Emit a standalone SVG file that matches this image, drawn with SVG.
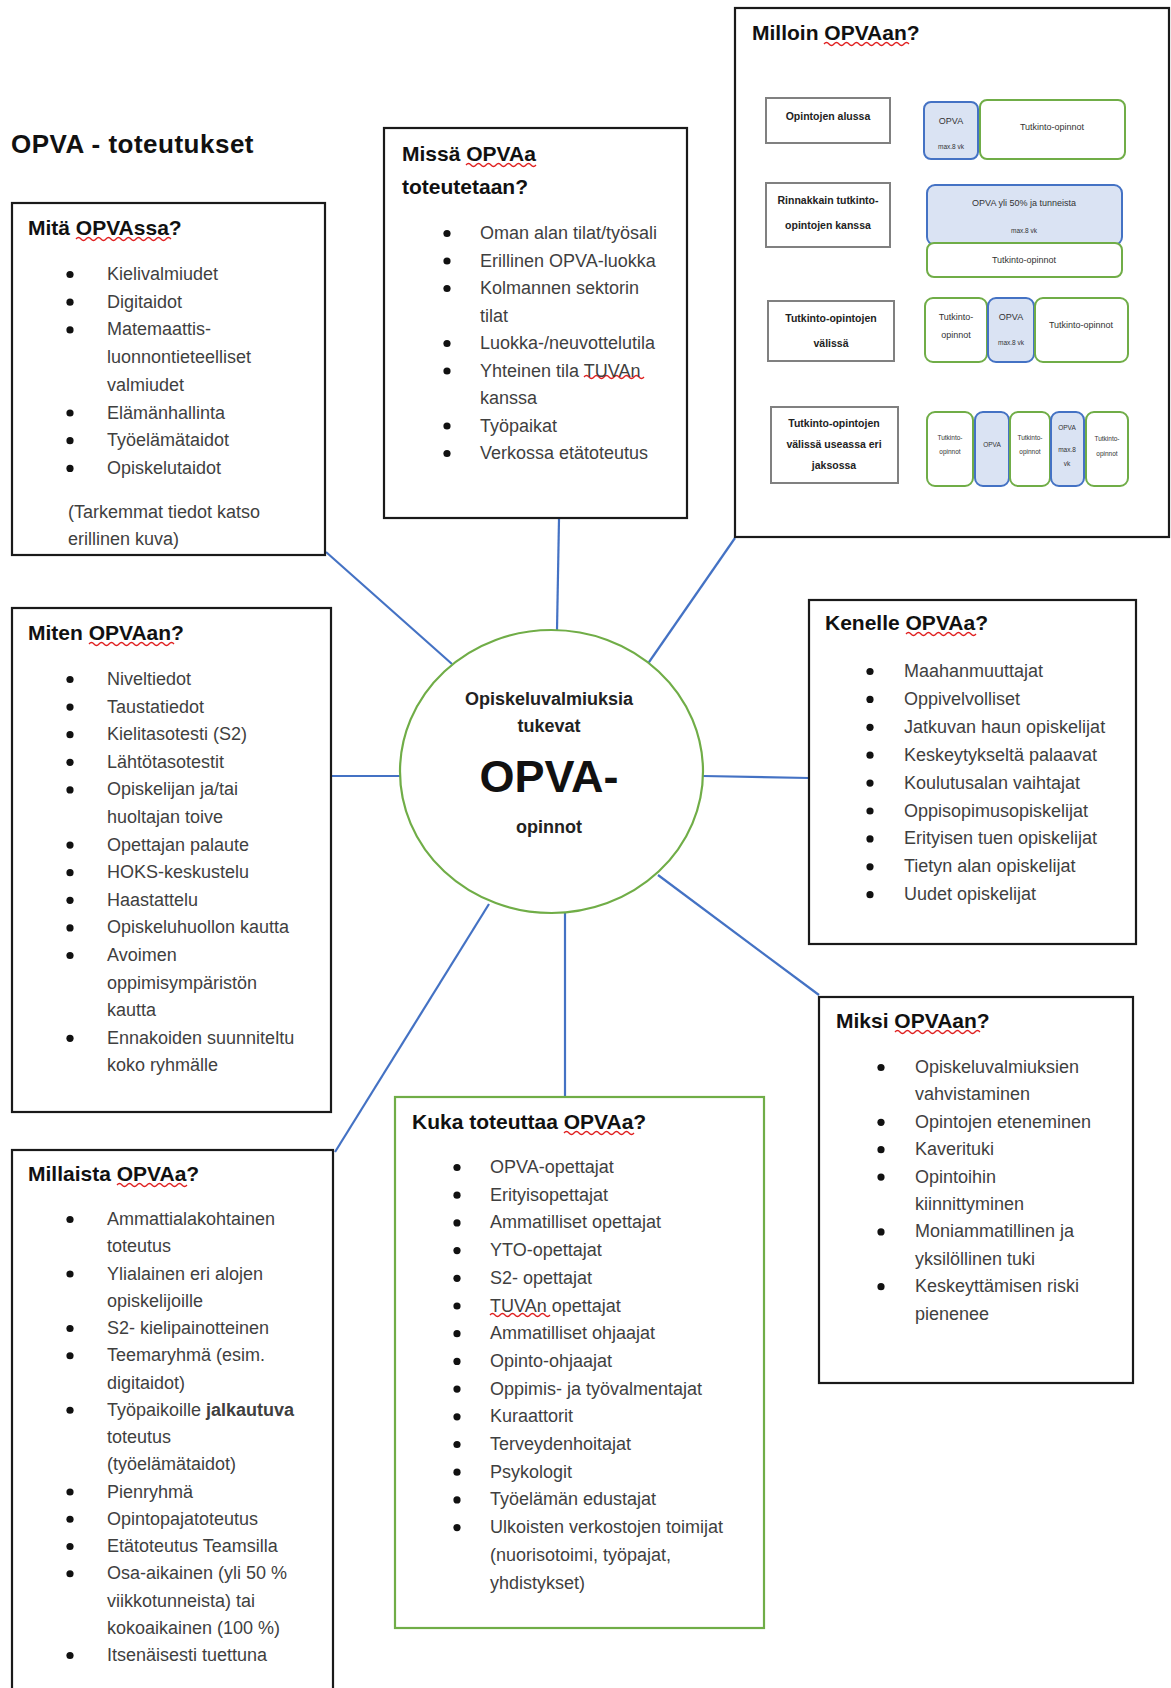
<svg xmlns="http://www.w3.org/2000/svg" width="1171" height="1688" viewBox="0 0 1171 1688">
<style>
text{font-family:"Liberation Sans",Arial,sans-serif}
.ttl{font-size:26px;font-weight:bold;fill:#111;letter-spacing:0.5px}
.h{font-size:21px;font-weight:bold;fill:#111}
.it{font-size:18px;fill:#3f3f3f}
.box{fill:#fff;stroke:#1a1a1a;stroke-width:2.2}
.gbox{fill:#fff;stroke:#70ad47;stroke-width:2.2}
.sq{fill:none;stroke:#e02020;stroke-width:1.3}
.con{stroke:#4472c4;stroke-width:2.2;fill:none}
.lbl{fill:#fff;stroke:#808080;stroke-width:2}
.lt{font-size:10.5px;font-weight:bold;fill:#222;text-anchor:middle}
.bs{fill:#dae3f3;stroke:#4472c4;stroke-width:2}
.gs{fill:#fff;stroke:#70ad47;stroke-width:2}
.st{font-size:9px;fill:#333;text-anchor:middle}
.tt{font-size:6.5px;fill:#333;text-anchor:middle}
.ct{font-size:18px;font-weight:bold;fill:#222;text-anchor:middle}
</style>
<defs>
<circle id="b" r="3.6" fill="#111"/>
</defs>

<g id="connectors">
<line class="con" x1="326" y1="552" x2="452" y2="664"/>
<line class="con" x1="559" y1="519" x2="557" y2="630"/>
<line class="con" x1="735" y1="538" x2="647" y2="665"/>
<line class="con" x1="331" y1="776" x2="400" y2="776"/>
<line class="con" x1="703" y1="776" x2="809" y2="778"/>
<line class="con" x1="658" y1="875" x2="819" y2="995"/>
<line class="con" x1="565" y1="913" x2="565" y2="1097"/>
<line class="con" x1="489" y1="904" x2="335" y2="1152"/>
</g>

<text class="ttl" x="11" y="153">OPVA - toteutukset</text>

<g id="mita">
<rect class="box" x="12" y="203" width="313" height="352"/>
<text class="h" x="28" y="235">Mitä OPVAssa?</text>
<path class="sq" d="M76 239 q2.5 -3 5 0 t5 0 t5 0 t5 0 t5 0 t5 0 t5 0 t5 0 t5 0 t5 0 t5 0 t5 0 t5 0 t5 0 t5 0 t5 0 t5 0 t5 0 t5 0"/>
<g class="it">
<text x="107" y="280">Kielivalmiudet</text>
<text x="107" y="307.7">Digitaidot</text>
<text x="107" y="335.4">Matemaattis-</text>
<text x="107" y="363.1">luonnontieteelliset</text>
<text x="107" y="390.8">valmiudet</text>
<text x="107" y="418.5">Elämänhallinta</text>
<text x="107" y="446.2">Työelämätaidot</text>
<text x="107" y="473.9">Opiskelutaidot</text>
<text x="68" y="518">(Tarkemmat tiedot katso</text>
<text x="68" y="545">erillinen kuva)</text>
</g>
<use href="#b" x="70" y="274.5"/><use href="#b" x="70" y="302.2"/><use href="#b" x="70" y="329.9"/><use href="#b" x="70" y="413"/><use href="#b" x="70" y="440.7"/><use href="#b" x="70" y="468.4"/>
</g>

<g id="missa">
<rect class="box" x="384" y="128" width="303" height="390"/>
<text class="h" x="402" y="161">Missä OPVAa</text>
<text class="h" x="402" y="194">toteutetaan?</text>
<path class="sq" d="M466 165 q2.5 -3 5 0 t5 0 t5 0 t5 0 t5 0 t5 0 t5 0 t5 0 t5 0 t5 0 t5 0 t5 0 t5 0 t5 0"/>
<path class="sq" d="M584 377 q2.5 -3 5 0 t5 0 t5 0 t5 0 t5 0 t5 0 t5 0 t5 0 t5 0 t5 0 t5 0 t5 0"/>
<g class="it">
<text x="480" y="239">Oman alan tilat/työsali</text>
<text x="480" y="266.5">Erillinen OPVA-luokka</text>
<text x="480" y="294">Kolmannen sektorin</text>
<text x="480" y="321.5">tilat</text>
<text x="480" y="349">Luokka-/neuvottelutila</text>
<text x="480" y="376.5">Yhteinen tila TUVAn</text>
<text x="480" y="404">kanssa</text>
<text x="480" y="431.5">Työpaikat</text>
<text x="480" y="459">Verkossa etätoteutus</text>
</g>
<use href="#b" x="447" y="233.5"/><use href="#b" x="447" y="261"/><use href="#b" x="447" y="288.5"/><use href="#b" x="447" y="343.5"/><use href="#b" x="447" y="371"/><use href="#b" x="447" y="426"/><use href="#b" x="447" y="453.5"/>
</g>

<g id="milloin">
<rect class="box" x="735" y="8" width="434" height="529"/>
<text class="h" x="752" y="40">Milloin OPVAan?</text>
<path class="sq" d="M824 44 q2.5 -3 5 0 t5 0 t5 0 t5 0 t5 0 t5 0 t5 0 t5 0 t5 0 t5 0 t5 0 t5 0 t5 0 t5 0 t5 0 t5 0 t5 0"/>
<rect class="lbl" x="766" y="98" width="124" height="45"/>
<text class="lt" x="828" y="120">Opintojen alussa</text>
<rect class="bs" x="924" y="102" width="54" height="57" rx="7"/>
<text class="st" x="951" y="124">OPVA</text>
<text class="tt" x="951" y="149">max.8 vk</text>
<rect class="gs" x="980" y="100" width="145" height="59" rx="7"/>
<text class="st" x="1052" y="130">Tutkinto-opinnot</text>

<rect class="lbl" x="766" y="183" width="124" height="64"/>
<text class="lt" x="828" y="204">Rinnakkain tutkinto-</text>
<text class="lt" x="828" y="229">opintojen kanssa</text>
<rect class="bs" x="927" y="185" width="195" height="60" rx="8"/>
<text class="st" x="1024" y="206">OPVA yli 50% ja tunneista</text>
<text class="tt" x="1024" y="233">max.8 vk</text>
<rect class="gs" x="927" y="243" width="195" height="34" rx="7"/>
<text class="st" x="1024" y="263">Tutkinto-opinnot</text>

<rect class="lbl" x="768" y="301" width="126" height="60"/>
<text class="lt" x="831" y="322">Tutkinto-opintojen</text>
<text class="lt" x="831" y="347">välissä</text>
<rect class="gs" x="925" y="298" width="62" height="64" rx="8"/>
<text class="st" x="956" y="320">Tutkinto-</text>
<text class="st" x="956" y="338">opinnot</text>
<rect class="bs" x="988" y="298" width="46" height="64" rx="8"/>
<text class="st" x="1011" y="320">OPVA</text>
<text class="tt" x="1011" y="345">max.8 vk</text>
<rect class="gs" x="1035" y="298" width="93" height="64" rx="8"/>
<text class="st" x="1081" y="328">Tutkinto-opinnot</text>

<rect class="lbl" x="771" y="407" width="127" height="76"/>
<text class="lt" x="834" y="427">Tutkinto-opintojen</text>
<text class="lt" x="834" y="448">välissä useassa eri</text>
<text class="lt" x="834" y="469">jaksossa</text>
<rect class="gs" x="927" y="412" width="46" height="74" rx="8"/>
<text class="tt" x="950" y="440">Tutkinto-</text>
<text class="tt" x="950" y="454">opinnot</text>
<rect class="bs" x="975" y="412" width="34" height="74" rx="8"/>
<text class="tt" x="992" y="447">OPVA</text>
<rect class="gs" x="1010" y="412" width="40" height="74" rx="8"/>
<text class="tt" x="1030" y="440">Tutkinto-</text>
<text class="tt" x="1030" y="454">opinnot</text>
<rect class="bs" x="1051" y="412" width="33" height="74" rx="8"/>
<text class="tt" x="1067" y="430">OPVA</text>
<text class="tt" x="1067" y="452">max.8</text>
<text class="tt" x="1067" y="466">vk</text>
<rect class="gs" x="1086" y="412" width="42" height="74" rx="8"/>
<text class="tt" x="1107" y="441">Tutkinto-</text>
<text class="tt" x="1107" y="456">opinnot</text>
</g>

<g id="center">
<ellipse cx="551.5" cy="771.5" rx="151.5" ry="141.5" fill="#fff" stroke="#70ad47" stroke-width="2.2"/>
<text class="ct" x="549" y="705">Opiskeluvalmiuksia</text>
<text class="ct" x="549" y="732">tukevat</text>
<text x="549" y="792" font-size="45" font-weight="bold" fill="#111" text-anchor="middle">OPVA-</text>
<text class="ct" x="549" y="833">opinnot</text>
</g>

<g id="miten">
<rect class="box" x="12" y="608" width="319" height="504"/>
<text class="h" x="28" y="640">Miten OPVAan?</text>
<path class="sq" d="M89 644 q2.5 -3 5 0 t5 0 t5 0 t5 0 t5 0 t5 0 t5 0 t5 0 t5 0 t5 0 t5 0 t5 0 t5 0 t5 0 t5 0 t5 0 t5 0"/>
<g class="it">
<text x="107" y="685">Niveltiedot</text>
<text x="107" y="712.6">Taustatiedot</text>
<text x="107" y="740.2">Kielitasotesti (S2)</text>
<text x="107" y="767.8">Lähtötasotestit</text>
<text x="107" y="795.4">Opiskelijan ja/tai</text>
<text x="107" y="823">huoltajan toive</text>
<text x="107" y="850.6">Opettajan palaute</text>
<text x="107" y="878.2">HOKS-keskustelu</text>
<text x="107" y="905.8">Haastattelu</text>
<text x="107" y="933.4">Opiskeluhuollon kautta</text>
<text x="107" y="961">Avoimen</text>
<text x="107" y="988.6">oppimisympäristön</text>
<text x="107" y="1016.2">kautta</text>
<text x="107" y="1043.8">Ennakoiden suunniteltu</text>
<text x="107" y="1071.4">koko ryhmälle</text>
</g>
<use href="#b" x="70" y="679.5"/><use href="#b" x="70" y="707.1"/><use href="#b" x="70" y="734.7"/><use href="#b" x="70" y="762.3"/><use href="#b" x="70" y="789.9"/><use href="#b" x="70" y="845.1"/><use href="#b" x="70" y="872.7"/><use href="#b" x="70" y="900.3"/><use href="#b" x="70" y="927.9"/><use href="#b" x="70" y="955.5"/><use href="#b" x="70" y="1038.3"/>
</g>

<g id="kenelle">
<rect class="box" x="809" y="600" width="327" height="344"/>
<text class="h" x="825" y="630">Kenelle OPVAa?</text>
<path class="sq" d="M906 634 q2.5 -3 5 0 t5 0 t5 0 t5 0 t5 0 t5 0 t5 0 t5 0 t5 0 t5 0 t5 0 t5 0 t5 0 t5 0"/>
<g class="it">
<text x="904" y="677">Maahanmuuttajat</text>
<text x="904" y="704.9">Oppivelvolliset</text>
<text x="904" y="732.8">Jatkuvan haun opiskelijat</text>
<text x="904" y="760.7">Keskeytykseltä palaavat</text>
<text x="904" y="788.6">Koulutusalan vaihtajat</text>
<text x="904" y="816.5">Oppisopimusopiskelijat</text>
<text x="904" y="844.4">Erityisen tuen opiskelijat</text>
<text x="904" y="872.3">Tietyn alan opiskelijat</text>
<text x="904" y="900.2">Uudet opiskelijat</text>
</g>
<use href="#b" x="870" y="671.5"/><use href="#b" x="870" y="699.4"/><use href="#b" x="870" y="727.3"/><use href="#b" x="870" y="755.2"/><use href="#b" x="870" y="783.1"/><use href="#b" x="870" y="811"/><use href="#b" x="870" y="838.9"/><use href="#b" x="870" y="866.8"/><use href="#b" x="870" y="894.7"/>
</g>

<g id="miksi">
<rect class="box" x="819" y="997" width="314" height="386"/>
<text class="h" x="836" y="1028">Miksi OPVAan?</text>
<path class="sq" d="M895 1032 q2.5 -3 5 0 t5 0 t5 0 t5 0 t5 0 t5 0 t5 0 t5 0 t5 0 t5 0 t5 0 t5 0 t5 0 t5 0 t5 0 t5 0 t5 0"/>
<g class="it">
<text x="915" y="1073">Opiskeluvalmiuksien</text>
<text x="915" y="1100.4">vahvistaminen</text>
<text x="915" y="1127.8">Opintojen eteneminen</text>
<text x="915" y="1155.2">Kaverituki</text>
<text x="915" y="1182.6">Opintoihin</text>
<text x="915" y="1210">kiinnittyminen</text>
<text x="915" y="1237.4">Moniammatillinen ja</text>
<text x="915" y="1264.8">yksilöllinen tuki</text>
<text x="915" y="1292.2">Keskeyttämisen riski</text>
<text x="915" y="1319.6">pienenee</text>
</g>
<use href="#b" x="881" y="1067.5"/><use href="#b" x="881" y="1122.3"/><use href="#b" x="881" y="1149.7"/><use href="#b" x="881" y="1177.1"/><use href="#b" x="881" y="1231.9"/><use href="#b" x="881" y="1286.7"/>
</g>

<g id="kuka">
<rect class="gbox" x="395" y="1097" width="369" height="531"/>
<text class="h" x="412" y="1129">Kuka toteuttaa OPVAa?</text>
<path class="sq" d="M564 1133 q2.5 -3 5 0 t5 0 t5 0 t5 0 t5 0 t5 0 t5 0 t5 0 t5 0 t5 0 t5 0 t5 0 t5 0 t5 0"/>
<path class="sq" d="M490 1315 q2.5 -3 5 0 t5 0 t5 0 t5 0 t5 0 t5 0 t5 0 t5 0 t5 0 t5 0 t5 0 t5 0"/>
<g class="it">
<text x="490" y="1173">OPVA-opettajat</text>
<text x="490" y="1200.7">Erityisopettajat</text>
<text x="490" y="1228.4">Ammatilliset opettajat</text>
<text x="490" y="1256.1">YTO-opettajat</text>
<text x="490" y="1283.8">S2- opettajat</text>
<text x="490" y="1311.5">TUVAn opettajat</text>
<text x="490" y="1339.2">Ammatilliset ohjaajat</text>
<text x="490" y="1366.9">Opinto-ohjaajat</text>
<text x="490" y="1394.6">Oppimis- ja työvalmentajat</text>
<text x="490" y="1422.3">Kuraattorit</text>
<text x="490" y="1450">Terveydenhoitajat</text>
<text x="490" y="1477.7">Psykologit</text>
<text x="490" y="1505.4">Työelämän edustajat</text>
<text x="490" y="1533.1">Ulkoisten verkostojen toimijat</text>
<text x="490" y="1560.8">(nuorisotoimi, työpajat,</text>
<text x="490" y="1588.5">yhdistykset)</text>
</g>
<use href="#b" x="457" y="1167.5"/><use href="#b" x="457" y="1195.2"/><use href="#b" x="457" y="1222.9"/><use href="#b" x="457" y="1250.6"/><use href="#b" x="457" y="1278.3"/><use href="#b" x="457" y="1306"/><use href="#b" x="457" y="1333.7"/><use href="#b" x="457" y="1361.4"/><use href="#b" x="457" y="1389.1"/><use href="#b" x="457" y="1416.8"/><use href="#b" x="457" y="1444.5"/><use href="#b" x="457" y="1472.2"/><use href="#b" x="457" y="1499.9"/><use href="#b" x="457" y="1527.6"/>
</g>

<g id="millaista">
<rect class="box" x="12" y="1150" width="321" height="560"/>
<text class="h" x="28" y="1181">Millaista OPVAa?</text>
<path class="sq" d="M117 1185 q2.5 -3 5 0 t5 0 t5 0 t5 0 t5 0 t5 0 t5 0 t5 0 t5 0 t5 0 t5 0 t5 0 t5 0 t5 0"/>
<g class="it">
<text x="107" y="1225">Ammattialakohtainen</text>
<text x="107" y="1252.25">toteutus</text>
<text x="107" y="1279.5">Ylialainen eri alojen</text>
<text x="107" y="1306.75">opiskelijoille</text>
<text x="107" y="1334">S2- kielipainotteinen</text>
<text x="107" y="1361.25">Teemaryhmä (esim.</text>
<text x="107" y="1388.5">digitaidot)</text>
<text x="107" y="1415.75">Työpaikoille <tspan font-weight="bold">jalkautuva</tspan></text>
<text x="107" y="1443">toteutus</text>
<text x="107" y="1470.25">(työelämätaidot)</text>
<text x="107" y="1497.5">Pienryhmä</text>
<text x="107" y="1524.75">Opintopajatoteutus</text>
<text x="107" y="1552">Etätoteutus Teamsilla</text>
<text x="107" y="1579.25">Osa-aikainen (yli 50 %</text>
<text x="107" y="1606.5">viikkotunneista) tai</text>
<text x="107" y="1633.75">kokoaikainen (100 %)</text>
<text x="107" y="1661">Itsenäisesti tuettuna</text>
</g>
<use href="#b" x="70" y="1219.5"/><use href="#b" x="70" y="1274"/><use href="#b" x="70" y="1328.5"/><use href="#b" x="70" y="1355.75"/><use href="#b" x="70" y="1410.25"/><use href="#b" x="70" y="1492"/><use href="#b" x="70" y="1519.25"/><use href="#b" x="70" y="1546.5"/><use href="#b" x="70" y="1573.75"/><use href="#b" x="70" y="1655.5"/>
</g>
</svg>
